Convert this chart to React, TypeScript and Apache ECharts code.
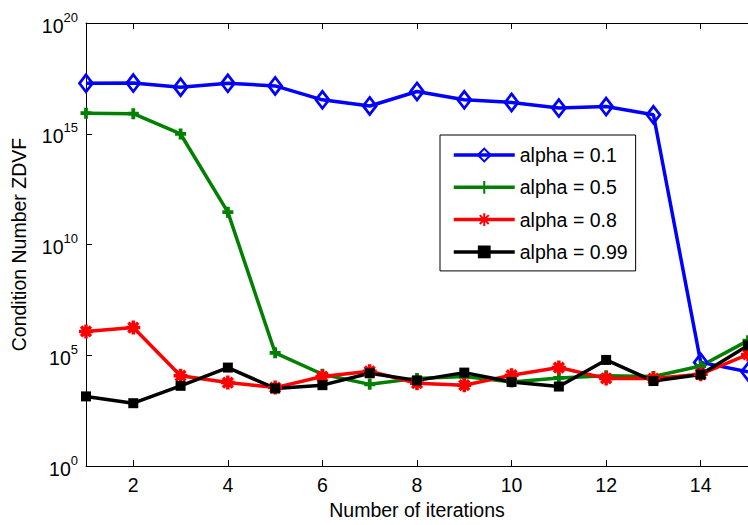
import React, { useEffect, useRef } from "react";
import * as echarts from "echarts";

const iterations = [1, 2, 3, 4, 5, 6, 7, 8, 9, 10, 11, 12, 13, 14, 15];
const xTicks = [2, 4, 6, 8, 10, 12, 14];
const seriesNames = ["alpha = 0.1", "alpha = 0.5", "alpha = 0.8", "alpha = 0.99"];
const alpha01 = [1.9e17, 1.95e17, 1.26e17, 1.9e17, 1.45e17, 3.4e16, 1.8e16, 8.1e16, 3.4e16, 2.6e16, 1.45e16, 1.7e16, 7.2e15, 4.8e4, 1.8e4];
const alpha05 = [8.5e15, 8.1e15, 9.8e14, 2.9e11, 1.3e5, 1.4e4, 4.9e3, 9.1e3, 1.1e4, 6.3e3, 9.5e3, 1.2e4, 1.1e4, 3.3e4, 4.6e5];
const alpha08 = [1.2e6, 1.8e6, 1.2e4, 5.9e3, 3.5e3, 1.1e4, 1.9e4, 5.5e3, 4.5e3, 1.26e4, 2.8e4, 9.1e3, 8.9e3, 1.4e4, 1.1e5];
const alpha099 = [1.4e3, 6.9e2, 4.2e3, 2.8e4, 3.2e3, 4.5e3, 1.55e4, 7.4e3, 1.66e4, 6.3e3, 3.9e3, 6.2e4, 6.9e3, 1.35e4, 2.8e5];
const yTickExponents = [0, 5, 10, 15, 20];

const FONT = "'Liberation Sans', Arial, Helvetica, sans-serif";
const FS = 19.5;

const plusPath = "path://M5,0L5,10M0,5L10,5";
const starPath = "path://M5,0L5,10M0,5L10,5M1.5,1.5L8.5,8.5M1.5,8.5L8.5,1.5";

function pairs(vals: number[]) {
  return vals.map((v, i) => [iterations[i], v]);
}

export default function App() {
  const ref = useRef<HTMLDivElement>(null);
  useEffect(() => {
    if (!ref.current) return;
    const chart = echarts.init(ref.current, undefined, { renderer: "svg" });
    const lineW = 3.5;
    const mk = (name: string, data: number[], color: string, symbol: string, size: any, itemStyle: any) => ({
      name,
      type: "line",
      data: pairs(data),
      symbol,
      symbolSize: size,
      showAllSymbol: true,
      lineStyle: { color, width: lineW },
      itemStyle,
      z: 2,
    });
    chart.setOption({
      animation: false,
      backgroundColor: "#fff",
      grid: { left: 86, top: 23, right: -7, bottom: 58, containLabel: false },
      legend: {
        left: 440,
        top: 135,
        orient: "vertical",
        backgroundColor: "#fff",
        borderColor: "#000",
        borderWidth: 1,
        borderRadius: 0,
        padding: [10, 8, 9, 12],
        itemWidth: 61,
        itemHeight: 16,
        itemGap: 12.3,
        lineStyle: { width: 3.5 },
        textStyle: { fontFamily: FONT, fontSize: FS, color: "#000", lineHeight: 16, padding: [0, 0, 0, 0] },
        data: seriesNames,
      },
      xAxis: [
        {
          type: "value",
          min: 1,
          max: 15,
          name: "Number of iterations",
          nameLocation: "middle",
          nameGap: 30,
          nameTextStyle: { fontFamily: FONT, fontSize: FS, color: "#000" },
          axisLine: { show: true, lineStyle: { color: "#000", width: 1 } },
          axisTick: { show: true, inside: true, length: 6, lineStyle: { color: "#000" }, customValues: xTicks },
          axisLabel: { fontFamily: FONT, fontSize: FS, color: "#000", margin: 9, customValues: xTicks },
          splitLine: { show: false },
        },
        {
          type: "value",
          position: "top",
          min: 1,
          max: 15,
          axisLine: { show: true, onZero: false, lineStyle: { color: "#000", width: 1 } },
          axisTick: { show: true, inside: true, length: 6, lineStyle: { color: "#000" }, customValues: xTicks },
          axisLabel: { show: false, customValues: xTicks },
          splitLine: { show: false },
        },
      ],
      yAxis: {
        type: "log",
        logBase: 10,
        min: Math.pow(10, yTickExponents[0]),
        max: Math.pow(10, yTickExponents[yTickExponents.length - 1]),
        interval: 5,
        name: "Condition Number ZDVF",
        nameLocation: "middle",
        nameGap: 57,
        nameTextStyle: { fontFamily: FONT, fontSize: FS, color: "#000" },
        axisLine: { show: true, lineStyle: { color: "#000", width: 1 } },
        axisTick: { show: true, inside: true, length: 6, lineStyle: { color: "#000" } },
        minorTick: { show: false },
        splitLine: { show: false },
        axisLabel: {
          margin: 8,
          formatter: (v: number) => {
            const e = Math.round(Math.log10(v));
            return "{b|10}{s|" + e + "}";
          },
          rich: {
            b: { fontFamily: FONT, fontSize: FS, color: "#000", lineHeight: 25, verticalAlign: "bottom" },
            s: { fontFamily: FONT, fontSize: 13, color: "#000", lineHeight: 25, verticalAlign: "top" },
          },
        },
      },
      series: [
        mk(seriesNames[0], alpha01, "#0000ff", "diamond", [13, 17], { color: "rgba(255,255,255,0)", borderColor: "#0000ff", borderWidth: 2.8 }),
        mk(seriesNames[1], alpha05, "#008000", plusPath, 11, { color: "#008000", borderColor: "#008000", borderWidth: 3.8 }),
        mk(seriesNames[2], alpha08, "#ff0000", starPath, 14, { color: "#ff0000", borderColor: "#ff0000", borderWidth: 3.5 }),
        mk(seriesNames[3], alpha099, "#000000", "rect", 10, { color: "#000000", borderColor: "#000000", borderWidth: 0 }),
      ],
    });
    return () => chart.dispose();
  }, []);
  return <div ref={ref} style={{ position: "absolute", left: 0, top: 0, width: 748, height: 525 }} />;
}
